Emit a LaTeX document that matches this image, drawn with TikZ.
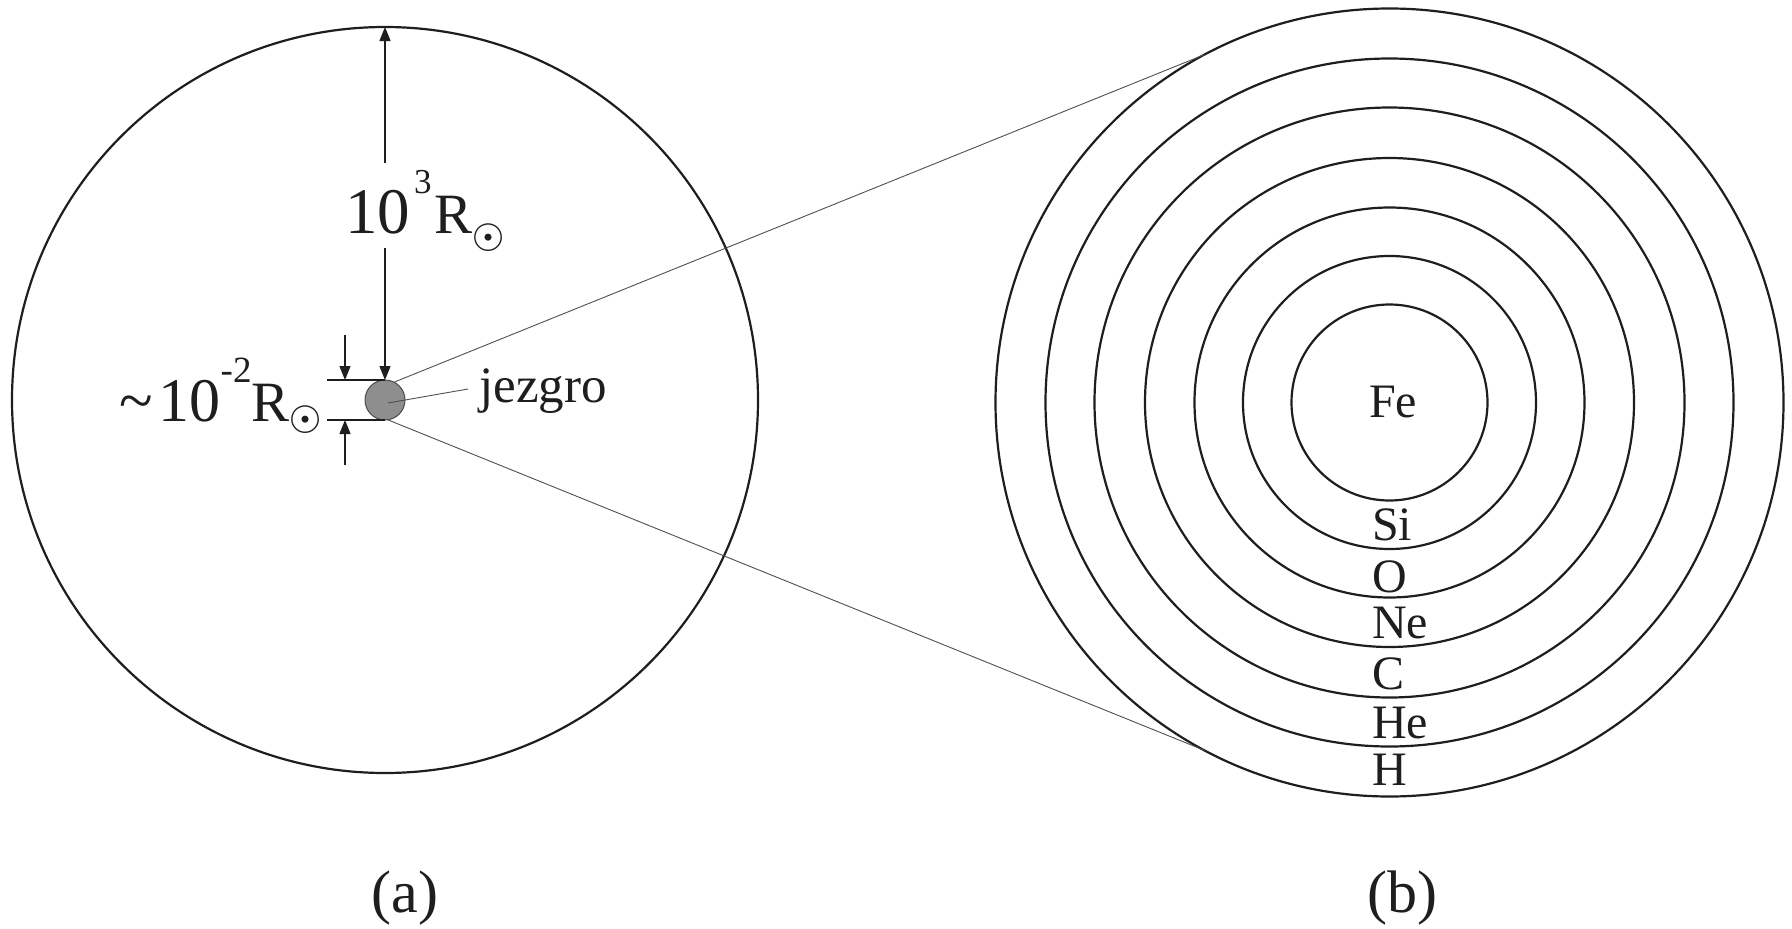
\documentclass[tikz,border=0pt]{standalone}
\usepackage{fontspec}
\setmainfont{Liberation Serif}
\newfontfamily\symfont{DejaVu Sans}
\usetikzlibrary{arrows.meta}
\definecolor{ink}{HTML}{1E1E1E}
\definecolor{corefill}{HTML}{8E8E8E}
\definecolor{coneclr}{HTML}{505050}
\tikzset{
 ring/.style={circle, draw=ink, line width=2.2pt, inner sep=0pt, outer sep=0pt},
 cone/.style={draw=coneclr, line width=0.9pt},
 dimline/.style={draw=ink, line width=1.3pt},
 dimarrow/.style={dimline, -{Triangle[length=14pt,width=11pt]}},
 elem/.style={anchor=base west, inner sep=0pt, font=\fontsize{48}{48}\selectfont, text=ink},
 txt/.style={inner sep=0pt, text=ink},
}
\newcommand{\sunmark}[1]{{\symfont\fontsize{#1}{#1}\selectfont\textcolor{ink}{☉}}}
\begin{document}
\begin{tikzpicture}[x=1pt,y=-1pt]
\useasboundingbox[fill=white] (0,0) rectangle (1792,929);
% (a) envelope and core
\node[ring, minimum size=746pt] (env) at (385,400) {};
\node[circle, fill=corefill, draw=gray!60!black, line width=1pt, minimum size=40pt, inner sep=0pt, outer sep=0pt] (core) at (385,400) {};
% (b) onion layers
\node[ring, minimum size=788pt] (rH)  at (1389.5,402.5) {};
\node[ring, minimum size=688pt] (rHe) at (1389.5,402.5) {};
\node[ring, minimum size=590pt] (rC)  at (1389.5,402.5) {};
\node[ring, minimum size=489pt] (rNe) at (1389.5,402.5) {};
\node[ring, minimum size=390pt] (rO)  at (1389.5,402.5) {};
\node[ring, minimum size=293pt] (rSi) at (1389.5,402.5) {};
\node[ring, minimum size=196pt] (rFe) at (1389.5,402.5) {};
% cone lines
\draw[cone] (core.63) -- (rH.118.6);
\draw[cone] (core.278) -- (rH.242.1);
% big radius arrow
\coordinate (bigA) at (385,163);
\coordinate (bigB) at (385,248);
\draw[dimarrow] (bigA) -- (env.north);
\draw[dimarrow] (bigB) -- (core.north);
\node[txt, anchor=base west] (lblR) at (345,233)
  {\fontsize{65}{65}\selectfont 10\hspace{4pt}\raisebox{40pt}{\fontsize{35}{35}\selectfont 3}\hspace{3pt}\fontsize{57}{57}\selectfont R\hspace{-1pt}\raisebox{-18pt}{\sunmark{38}}};
% core size dimension
\coordinate (ext1) at (327,380);
\coordinate (ext2) at (327,420);
\draw[dimline] (ext1) -- (core.north);
\draw[dimline] (ext2) -- (core.south);
\coordinate (sa1) at (345,335);
\coordinate (sa1t) at (345,380);
\coordinate (sa2) at (345,465);
\coordinate (sa2t) at (345,420);
\draw[dimarrow] (sa1) -- (sa1t);
\draw[dimarrow] (sa2) -- (sa2t);
\node[txt, anchor=base west] (lblr) at (119,421)
  {\fontsize{62}{62}\selectfont \textasciitilde\hspace{6pt}10\raisebox{39pt}{\fontsize{37}{37}\selectfont -2}\fontsize{57}{57}\selectfont R\hspace{-1pt}\raisebox{-12pt}{\sunmark{38}}};
% jezgro label
\node[txt, anchor=base west, font=\fontsize{51}{51}\selectfont] (jz) at (479,402) {jezgro};
\coordinate (jzl) at (468,389);
\coordinate (jzc) at (388,403);
\draw[cone] (jzl) -- (jzc);
% element labels
\node[elem] (tFe) at (1369,417) {Fe};
\node[elem] (tSi) at (1372,540) {Si};
\node[elem] (tO)  at (1372,592) {O};
\node[elem] (tNe) at (1372,638) {Ne};
\node[elem] (tC)  at (1372,689) {C};
\node[elem] (tHe) at (1372,738) {He};
\node[elem] (tH)  at (1372,785) {H};
% panel labels
\node[txt, anchor=base, font=\fontsize{60}{60}\selectfont] (pa) at (405,912) {(a)};
\node[txt, anchor=base, font=\fontsize{60}{60}\selectfont] (pb) at (1402,912) {(b)};
\end{tikzpicture}
\end{document}
